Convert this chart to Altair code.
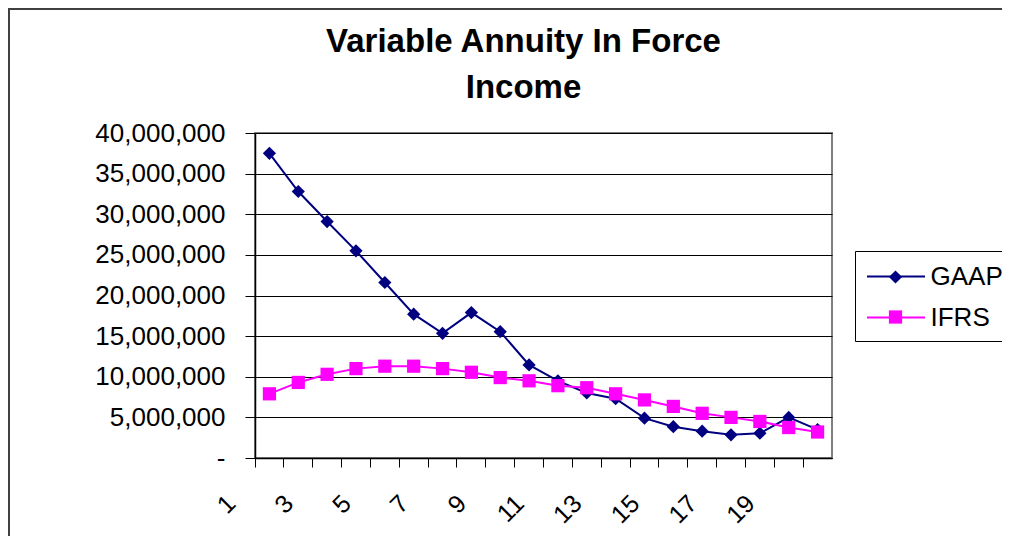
import altair as alt
import pandas as pd

categories = list(range(1, 21))
gaap = [37.5e6, 32.8e6, 29.1e6, 25.5e6, 21.6e6, 17.7e6, 15.35e6, 17.9e6, 15.55e6, 11.45e6,
        9.5e6, 8.0e6, 7.3e6, 4.9e6, 3.85e6, 3.3e6, 2.85e6, 3.05e6, 5.0e6, 3.5e6]
ifrs = [7.9e6, 9.3e6, 10.3e6, 11.0e6, 11.3e6, 11.3e6, 11.0e6, 10.55e6, 9.9e6, 9.5e6,
        8.9e6, 8.65e6, 7.9e6, 7.15e6, 6.35e6, 5.5e6, 5.0e6, 4.5e6, 3.75e6, 3.2e6]
series_names = ["GAAP", "IFRS"]
y_ticks = [0, 5e6, 10e6, 15e6, 20e6, 25e6, 30e6, 35e6, 40e6]
title_lines = ["Variable Annuity In Force", "Income"]

colors = ["#000080", "#FF00FF"]

rows = []
for c, g, i in zip(categories, gaap, ifrs):
    rows.append({"cat": c, "series": "GAAP", "value": g})
    rows.append({"cat": c, "series": "IFRS", "value": i})
df = pd.DataFrame(rows)

FONT = "Liberation Sans"

x_enc = alt.X(
    "cat:O",
    scale=alt.Scale(type="band", paddingInner=0, paddingOuter=0),
    axis=alt.Axis(
        title=None, bandPosition=0, grid=False,
        labelExpr="datum.value % 2 == 1 ? datum.label : ''",
        labelAngle=-45, labelAlign="right", labelBaseline="middle",
        labelOffset=-38, labelPadding=32, labelOverlap=False,
        tickSize=9, labelFontSize=25, labelFont=FONT, labelColor="black",
        domainColor="black", tickColor="black", domainWidth=1.5,
    ),
)
y_enc = alt.Y(
    "value:Q",
    scale=alt.Scale(domain=[0, 40e6], nice=False),
    axis=alt.Axis(
        title=None, values=y_ticks,
        labelExpr="datum.value == 0 ? '-\u00a0\u00a0\u00a0\u00a0' : format(datum.value, ',')",
        labelFontSize=26, labelFont=FONT, labelColor="black", labelPadding=20,
        tickSize=10, tickColor="black", domainColor="black", domainWidth=1.5,
        gridColor="black", gridWidth=1,
    ),
)

base = alt.Chart(df).encode(x=x_enc, y=y_enc)

# legend with the line symbols and the labels (from the line colour scale)
leg_lines = alt.Legend(
    orient="none", legendX=600, legendY=118,
    strokeColor="black", padding=10, rowPadding=12,
    symbolType="M-2,0L2,0", symbolSize=841, symbolStrokeWidth=2, symbolOffset=15.5,
    symbolOpacity=1,
    labelFontSize=26, labelFont=FONT, labelColor="black", labelOffset=19,
)
# legend with the markers only, laid over the line symbols
leg_marks = alt.Legend(
    orient="none", legendX=600, legendY=120,
    padding=11, rowPadding=14, values=series_names,
    symbolSize=175, symbolOffset=16.5, symbolOpacity=1,
    labelFontSize=26, labelFont=FONT, labelOpacity=0,
)

lines = base.mark_line(strokeWidth=2).encode(
    color=alt.Color("series:N", title=None,
                    scale=alt.Scale(domain=series_names, range=colors), legend=leg_lines)
)

mark_domain = series_names + ["_"]
points = base.mark_point(filled=True, opacity=1, size=175).encode(
    fill=alt.Fill("series:N", title=None,
                  scale=alt.Scale(domain=mark_domain, range=colors + ["#000000"]),
                  legend=leg_marks),
    shape=alt.Shape("series:N", title=None,
                    scale=alt.Scale(domain=mark_domain, range=["diamond", "square", "circle"]),
                    legend=leg_marks),
)

left_edge = alt.Chart(alt.Data(values=[{}])).mark_rule(
    stroke="#404040", strokeWidth=2, clip=False
).encode(x=alt.value(-246), y=alt.value(-124), y2=alt.value(450))
top_edge = alt.Chart(alt.Data(values=[{}])).mark_rule(
    stroke="#404040", strokeWidth=2, clip=False
).encode(x=alt.value(-247), x2=alt.value(760), y=alt.value(-124))

chart = alt.layer(lines, points, left_edge, top_edge).properties(
    width=577, height=325,
    autosize=alt.AutoSizeParams(type="none"),
    padding={"left": 247, "top": 125, "right": 170, "bottom": 78},
    title=alt.TitleParams(
        text=title_lines, fontSize=33, fontWeight="bold", font=FONT,
        anchor="middle", dx=-20, dy=123, offset=26, lineHeight=46, color="black",
    ),
).configure_view(stroke="#808080", strokeWidth=2)

chart.save("out.html", embed_options={"renderer": "svg", "actions": False})
